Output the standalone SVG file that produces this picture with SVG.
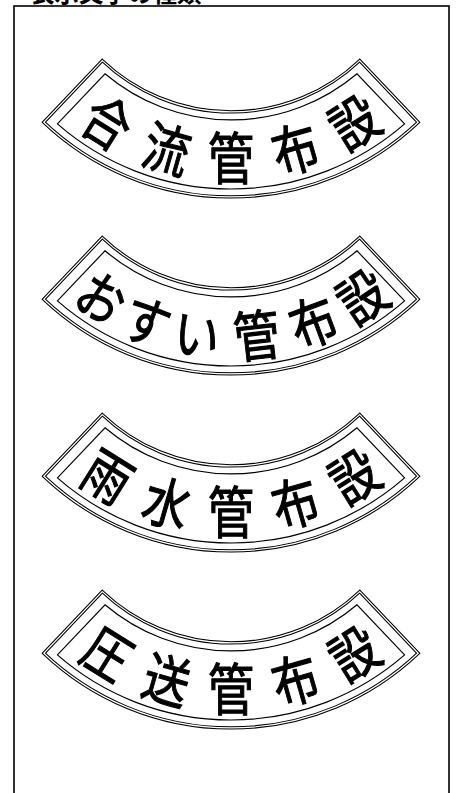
<svg xmlns="http://www.w3.org/2000/svg" xmlns:xlink="http://www.w3.org/1999/xlink" width="457" height="793" viewBox="0 0 457 793">
<style>
.frame{fill:none;stroke:#000;stroke-width:1.6}
.title{font-family:"Noto Sans CJK JP","Noto Sans CJK SC",sans-serif;font-size:24.5px;font-weight:bold;fill:#000}
.ob{fill:#fff;stroke:#000;stroke-width:3.3}
.ow{fill:none;stroke:#fff;stroke-width:1.2}
.in{fill:none;stroke:#000;stroke-width:1.2}
.ch{font-family:"Noto Sans CJK JP","Noto Sans CJK SC",sans-serif;font-size:46px;text-anchor:middle;dominant-baseline:central;fill:#000;stroke:#000;stroke-width:0.9}
</style>
<defs>
<path id="outer" d="M102.3,135.6 A187,187 0 0 0 359.7,135.6 L418.2,197.3 A272,272 0 0 1 43.8,197.3 Z"/>
<path id="inner" d="M105,148.8 A195,195 0 0 0 357,148.8 L404.6,198.9 A264,264 0 0 1 57.4,198.9 Z"/>
</defs>
<rect width="457" height="793" fill="#fff"/>
<text class="title" x="30" y="2">表示文字の種類</text>
<rect class="frame" x="14" y="6" width="435" height="800"/>
<g id="banner-1" transform="translate(0,-75)">
<use href="#outer" class="ob"/><use href="#outer" class="ow"/><use href="#inner" class="in"/>
<text class="ch" transform="translate(109.1,195) rotate(32) scale(1,1.2)">合</text>
<text class="ch" transform="translate(167.6,221.1) rotate(16) scale(1,1.2)">流</text>
<text class="ch" transform="translate(231,230) scale(1,1.2)">管</text>
<text class="ch" transform="translate(294.4,221.1) rotate(-16) scale(1,1.2)">布</text>
<text class="ch" transform="translate(352.9,195) rotate(-32) scale(1,1.2)">設</text>
</g>
<g id="banner-2" transform="translate(0,102)">
<use href="#outer" class="ob"/><use href="#outer" class="ow"/><use href="#inner" class="in"/>
<text class="ch" transform="translate(103,193.5) rotate(33.5) scale(1,1.2)">お</text>
<text class="ch" transform="translate(147.9,216.6) rotate(21) scale(1,1.2)">す</text>
<text class="ch" transform="translate(197.5,229.4) rotate(8.5) scale(1,1.2)">い</text>
<text class="ch" transform="translate(256.5,230.5) rotate(-6.5) scale(1,1.2)">管</text>
<text class="ch" transform="translate(312.2,217.3) rotate(-20.5) scale(1,1.2)">布</text>
<text class="ch" transform="translate(360.7,192.3) rotate(-34) scale(1,1.2)">設</text>
</g>
<g id="banner-3" transform="translate(0,279)">
<use href="#outer" class="ob"/><use href="#outer" class="ow"/><use href="#inner" class="in"/>
<text class="ch" transform="translate(109.1,195) rotate(32) scale(1,1.2)">雨</text>
<text class="ch" transform="translate(167.6,221.1) rotate(16) scale(1,1.2)">水</text>
<text class="ch" transform="translate(231,230) scale(1,1.2)">管</text>
<text class="ch" transform="translate(294.4,221.1) rotate(-16) scale(1,1.2)">布</text>
<text class="ch" transform="translate(352.9,195) rotate(-32) scale(1,1.2)">設</text>
</g>
<g id="banner-4" transform="translate(0,456)">
<use href="#outer" class="ob"/><use href="#outer" class="ow"/><use href="#inner" class="in"/>
<text class="ch" transform="translate(109.1,195) rotate(32) scale(1,1.2)">圧</text>
<text class="ch" transform="translate(167.6,221.1) rotate(16) scale(1,1.2)">送</text>
<text class="ch" transform="translate(231,230) scale(1,1.2)">管</text>
<text class="ch" transform="translate(294.4,221.1) rotate(-16) scale(1,1.2)">布</text>
<text class="ch" transform="translate(352.9,195) rotate(-32) scale(1,1.2)">設</text>
</g>
</svg>
